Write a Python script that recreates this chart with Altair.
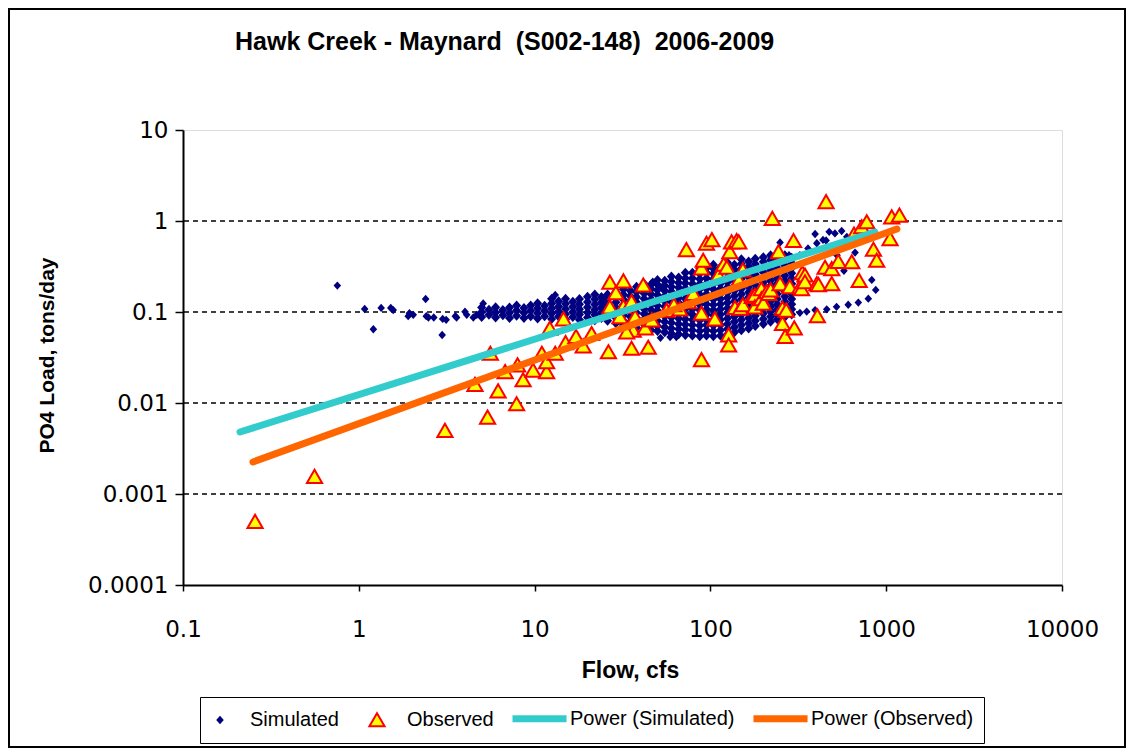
import altair as alt
import pandas as pd

TITLE = "Hawk Creek - Maynard\u00a0 (S002-148)\u00a0 2006-2009"
FONT = "Liberation Sans"
TICK_FONT = "DejaVu Sans"

series_names = ["Simulated", "Observed", "Power (Simulated)", "Power (Observed)"]

# Simulated: scattered low-flow days
sim_low_flow = [0.755, 1.08, 1.21, 1.34, 1.52, 1.57, 1.91, 1.94, 2.04, 2.4, 2.42, 2.49, 2.67,
                2.98, 3.0, 3.14, 3.54, 3.6, 4.02, 4.11, 4.48, 4.69, 5.1, 13.1, 47, 53, 52, 59, 64]
sim_low_load = [0.195, 0.108, 0.0646, 0.111, 0.111, 0.105, 0.090, 0.097, 0.093, 0.139, 0.090, 0.087, 0.087,
                0.0559, 0.084, 0.082, 0.090, 0.087, 0.1007, 0.093, 0.087, 0.093, 0.124, 0.154, 0.215, 0.187, 0.052, 0.053, 0.053]

# Simulated: dense band, grouped by flow (cfs) -> loads (tons/day)
sim_band_flow = [5.0, 5.5, 6.0, 6.6, 7.2, 7.9, 8.7, 9.5, 10.4, 11.4, 12.5, 13.7, 15, 16.5, 18, 20, 22, 24, 26,
                 29, 32, 35, 38, 42, 46, 50, 55, 60, 66, 72, 79, 87, 95, 104, 114, 125, 137, 150, 165, 180,
                 200, 220, 240, 265, 290]
sim_band_loads = [
    [0.088, 0.1, 0.112],
    [0.093, 0.106],
    [0.087, 0.099, 0.113],
    [0.092, 0.105],
    [0.086, 0.098, 0.112],
    [0.091, 0.104, 0.118],
    [0.086, 0.098, 0.111],
    [0.09, 0.103, 0.118],
    [0.085, 0.097, 0.11, 0.125],
    [0.09, 0.103, 0.117],
    [0.084, 0.096, 0.109, 0.124, 0.14],
    [0.089, 0.101, 0.115, 0.131],
    [0.083, 0.095, 0.108, 0.123, 0.14],
    [0.088, 0.1, 0.114, 0.13],
    [0.082, 0.094, 0.107, 0.122, 0.139],
    [0.087, 0.099, 0.113, 0.129, 0.147],
    [0.081, 0.093, 0.106, 0.121, 0.138, 0.156],
    [0.086, 0.098, 0.112, 0.128, 0.146],
    [0.08, 0.092, 0.105, 0.12, 0.137, 0.156],
    [0.075, 0.086, 0.098, 0.112, 0.128, 0.146, 0.166],
    [0.072, 0.08, 0.092, 0.105, 0.12, 0.137, 0.156, 0.178],
    [0.069, 0.078, 0.089, 0.102, 0.116, 0.132, 0.15, 0.172],
    [0.067, 0.075, 0.086, 0.098, 0.112, 0.128, 0.146, 0.166, 0.19],
    [0.065, 0.073, 0.083, 0.095, 0.108, 0.123, 0.14, 0.16, 0.182, 0.205],
    [0.063, 0.072, 0.082, 0.093, 0.106, 0.121, 0.138, 0.157, 0.179, 0.2],
    [0.062, 0.07, 0.08, 0.091, 0.104, 0.118, 0.135, 0.154, 0.175, 0.2, 0.225],
    [0.06, 0.068, 0.078, 0.089, 0.101, 0.115, 0.131, 0.15, 0.171, 0.195, 0.22],
    [0.058, 0.066, 0.076, 0.087, 0.099, 0.113, 0.129, 0.147, 0.168, 0.19, 0.215, 0.245],
    [0.057, 0.065, 0.074, 0.085, 0.097, 0.11, 0.126, 0.143, 0.163, 0.186, 0.21, 0.24],
    [0.056, 0.064, 0.073, 0.083, 0.095, 0.108, 0.123, 0.14, 0.16, 0.182, 0.207, 0.235, 0.27],
    [0.055, 0.063, 0.072, 0.082, 0.094, 0.107, 0.122, 0.139, 0.158, 0.18, 0.205, 0.235, 0.27],
    [0.054, 0.062, 0.071, 0.081, 0.092, 0.105, 0.12, 0.137, 0.156, 0.178, 0.203, 0.23, 0.265, 0.3],
    [0.055, 0.063, 0.072, 0.082, 0.094, 0.107, 0.122, 0.139, 0.158, 0.18, 0.205, 0.235, 0.27, 0.305],
    [0.054, 0.062, 0.071, 0.081, 0.092, 0.105, 0.12, 0.137, 0.156, 0.178, 0.203, 0.23, 0.265, 0.3, 0.33],
    [0.055, 0.063, 0.072, 0.082, 0.094, 0.107, 0.122, 0.139, 0.158, 0.18, 0.205, 0.235, 0.27, 0.31],
    [0.057, 0.065, 0.074, 0.085, 0.097, 0.11, 0.126, 0.143, 0.163, 0.186, 0.212, 0.24, 0.275, 0.315, 0.35],
    [0.06, 0.068, 0.078, 0.089, 0.101, 0.115, 0.131, 0.15, 0.171, 0.195, 0.222, 0.253, 0.29, 0.33],
    [0.063, 0.072, 0.082, 0.093, 0.106, 0.121, 0.138, 0.157, 0.179, 0.204, 0.232, 0.265, 0.3, 0.34, 0.38],
    [0.066, 0.075, 0.086, 0.098, 0.112, 0.127, 0.145, 0.165, 0.188, 0.214, 0.244, 0.278, 0.317, 0.36],
    [0.07, 0.08, 0.091, 0.104, 0.118, 0.135, 0.154, 0.175, 0.2, 0.228, 0.26, 0.296, 0.337, 0.385],
    [0.074, 0.084, 0.096, 0.11, 0.125, 0.142, 0.162, 0.185, 0.211, 0.24, 0.274, 0.312, 0.356, 0.4],
    [0.078, 0.089, 0.101, 0.115, 0.131, 0.149, 0.17, 0.194, 0.221, 0.252, 0.287, 0.327, 0.373, 0.42],
    [0.083, 0.094, 0.107, 0.122, 0.139, 0.158, 0.18, 0.205, 0.234, 0.267, 0.304, 0.346, 0.395],
    [0.088, 0.1, 0.114, 0.13, 0.148, 0.169, 0.193, 0.22, 0.25, 0.285, 0.325, 0.37, 0.42],
    [0.094, 0.107, 0.122, 0.139, 0.158, 0.18, 0.205, 0.234, 0.267, 0.304, 0.346, 0.395],
]

# Simulated: scattered high-flow days
sim_high_flow = [249, 280, 323, 323, 353, 359, 394, 394, 403, 437, 455, 459, 474, 511, 522, 525, 539,
                 558, 575, 597, 608, 637, 647, 665, 694, 791, 828, 872]
sim_high_load = [0.58, 0.42, 0.42, 0.098, 0.101, 0.50, 0.105, 0.72, 0.57, 0.62, 0.61, 0.107, 0.76, 0.73, 0.114, 0.42, 0.345,
                 0.776, 0.284, 0.67, 0.12, 0.575, 0.345, 0.45, 0.127, 0.14, 0.225, 0.175]

# Observed samples (flow cfs, load tons/day)
observed_points = [
    (0.257, 0.0005), (0.56, 0.00156), (3.09, 0.005), (4.58, 0.016), (5.4, 0.007), (5.6, 0.0352),
    (6.2, 0.0136), (6.8, 0.0221), (7.9, 0.0098), (8.0, 0.0262), (8.6, 0.018), (9.8, 0.023),
    (11.0, 0.0352), (11.7, 0.0221), (11.7, 0.0284), (12.2, 0.0662), (13.1, 0.0352), (14.6, 0.084),
    (15.0, 0.046), (17.2, 0.054), (18.9, 0.0425), (21.1, 0.058), (26.3, 0.0366), (26.8, 0.213),
    (29.0, 0.163), (32.0, 0.22), (26.8, 0.114), (32.0, 0.115), (30.6, 0.089), (35.6, 0.13),
    (35.6, 0.04), (36.4, 0.063), (33.4, 0.0605), (41.5, 0.198), (44.3, 0.041), (42.6, 0.067),
    (37.3, 0.0887), (46.4, 0.082), (56.4, 0.105), (67.0, 0.108), (73.0, 0.485), (89.0, 0.097),
    (106, 0.084), (89.0, 0.03), (89.0, 0.305), (95.0, 0.57), (102, 0.625), (111, 0.255),
    (119, 0.335), (129, 0.46), (132, 0.59), (141, 0.61), (145, 0.59), (127, 0.056),
    (127, 0.0434), (138, 0.112), (148, 0.11), (153, 0.12), (124, 0.31), (153, 0.29),
    (145, 0.225), (91, 0.37), (173, 0.148), (179, 0.153), (179, 0.114), (195, 0.18),
    (195, 0.14), (200, 0.125), (209, 0.167), (215, 0.16), (220, 0.175), (225, 1.07),
    (244, 0.46), (249, 0.205), (257, 0.11), (257, 0.075), (266, 0.054), (270, 0.105),
    (283, 0.19), (297, 0.61), (300, 0.067), (323, 0.19), (330, 0.18), (333, 0.27),
    (345, 0.255), (345, 0.215), (403, 0.205), (406, 0.091), (412, 0.2), (449, 0.31),
    (455, 1.63), (490, 0.205), (490, 0.3), (534, 0.36), (637, 0.357), (656, 0.72),
    (702, 0.222), (725, 0.865), (775, 0.98), (846, 0.49), (883, 0.37), (1052, 0.64),
    (1075, 1.11), (1189, 1.16), (62, 0.12), (75, 0.13), (80, 0.16),
]

# Power trendlines (end points of the fitted curves)
pow_sim_flow = [0.211, 863]
pow_sim_load = [0.0048, 0.757]
pow_obs_flow = [0.25, 1150]
pow_obs_load = [0.00225, 0.817]

x_ticks = [0.1, 1, 10, 100, 1000, 10000]
y_ticks = [0.0001, 0.001, 0.01, 0.1, 1, 10]
grid_values = [0.001, 0.01, 0.1, 1]

SYM = 230        # marker / legend symbol area
SYM_BAND = 330   # slightly larger diamonds where simulated days pile up

# ---- tables ----
rows = []
for f, l in zip(sim_low_flow, sim_low_load):
    rows.append({"flow": f, "load": l, "series": "Simulated", "sz": SYM})
for f, loads in zip(sim_band_flow, sim_band_loads):
    for l in loads:
        rows.append({"flow": f, "load": l, "series": "Simulated", "sz": SYM_BAND})
for f, l in zip(sim_high_flow, sim_high_load):
    rows.append({"flow": f, "load": l, "series": "Simulated", "sz": SYM})
for f, l in observed_points:
    rows.append({"flow": f, "load": l, "series": "Observed", "sz": SYM})
points_df = pd.DataFrame(rows)

line_rows = []
for f, l in zip(pow_sim_flow, pow_sim_load):
    line_rows.append({"flow": f, "load": l, "series": "Power (Simulated)"})
for f, l in zip(pow_obs_flow, pow_obs_load):
    line_rows.append({"flow": f, "load": l, "series": "Power (Observed)"})
lines_df = pd.DataFrame(line_rows)

grid_df = pd.DataFrame({"load": grid_values})
frame_df = pd.DataFrame({"k": [0]})

W, H = 879, 455
PAD_L, PAD_T = 175, 122

xscale = alt.Scale(type="log", domain=[0.1, 10000])
yscale = alt.Scale(type="log", domain=[0.0001, 10])

# symbol paths (unit box); the leading moves only widen the legend entry spacing
DIAMOND = "M-4.75,0M0,-0.55L0.5,0L0,0.55L-0.5,0Z"
TRIANGLE = "M-3.83,0M0,-0.866L-1,0.866L1,0.866Z"
LINE_SYM = "M-3.43,0H3.7"

legend = alt.Legend(
    title=None, orient="none", legendX=17, legendY=567, direction="horizontal",
    strokeColor="black", fillColor="white", padding=10, cornerRadius=0,
    labelFont=FONT, labelFontSize=20, labelColor="black", labelLimit=400,
    columnPadding=4, labelOffset=20, symbolSize=SYM,
)
fill_scale = alt.Scale(domain=series_names, range=["#000080", "#FFFF00", "transparent", "transparent"])
stroke_scale = alt.Scale(domain=series_names, range=["#000080", "#FF0000", "#33CCCC", "#FF6600"])
shape_scale = alt.Scale(domain=series_names, range=[DIAMOND, TRIANGLE, LINE_SYM, LINE_SYM])
sw_scale = alt.Scale(type="ordinal", domain=series_names, range=[0, 2, 7, 7])

x_axis = alt.Axis(
    values=x_ticks, format="~g", title="Flow, cfs", grid=False,
    labelFont=TICK_FONT, labelFontSize=23, labelColor="black", labelPadding=27, labelFlush=False,
    labelOverlap=False, tickSize=6, tickColor="black", tickWidth=1.5,
    domainColor="black", domainWidth=2,
    titleFont=FONT, titleFontSize=23, titleFontWeight="bold", titleColor="black",
    titleX=447, titleY=85, titleBaseline="middle", titleAnchor="middle",
)
y_axis = alt.Axis(
    values=y_ticks, format="~g", title="PO4 Load, tons/day", grid=False,
    labelFont=TICK_FONT, labelFontSize=23, labelColor="black", labelPadding=7, labelFlush=False,
    labelOverlap=False, tickSize=8, tickColor="black", tickWidth=1.5,
    domainColor="black", domainWidth=2,
    titleFont=FONT, titleFontSize=21, titleFontWeight="bold", titleColor="black",
    titleX=-136, titleY=225, titleBaseline="middle", titleAngle=270, titleAnchor="middle",
)

frame = alt.Chart(frame_df).mark_rect(fill=None, stroke="black", strokeWidth=2).encode(
    x=alt.value(-PAD_L + 1), x2=alt.value(1118 - PAD_L - 1),
    y=alt.value(-PAD_T + 1), y2=alt.value(740 - PAD_T - 1),
)

grid = alt.Chart(grid_df).mark_rule(color="black", strokeWidth=1.5, strokeDash=[5, 4]).encode(
    y=alt.Y("load:Q", scale=yscale, axis=y_axis),
)

pts = alt.Chart(points_df).mark_point(filled=True, opacity=1).encode(
    x=alt.X("flow:Q", scale=xscale, axis=x_axis),
    y=alt.Y("load:Q", scale=yscale, axis=y_axis),
    fill=alt.Fill("series:N", scale=fill_scale, legend=legend),
    stroke=alt.Stroke("series:N", scale=stroke_scale, legend=legend),
    shape=alt.Shape("series:N", scale=shape_scale, legend=legend),
    strokeWidth=alt.StrokeWidth("series:N", scale=sw_scale, legend=legend),
    size=alt.Size("sz:Q", scale=None, legend=None),
    order=alt.Order("series:N", sort="descending"),
)

lines = alt.Chart(lines_df).mark_line(strokeWidth=7, strokeCap="round").encode(
    x=alt.X("flow:Q", scale=xscale, axis=x_axis),
    y=alt.Y("load:Q", scale=yscale, axis=y_axis),
    stroke=alt.Stroke("series:N", scale=stroke_scale, legend=legend),
    detail="series:N",
)

chart = alt.layer(frame, grid, pts, lines).properties(
    width=W, height=H,
    title=alt.TitleParams(
        TITLE, anchor="start", frame="group", dx=52, offset=0, dy=59, baseline="middle",
        font=FONT, fontSize=25, fontWeight="bold", color="black",
    ),
    autosize=alt.AutoSizeParams(type="none"),
    padding={"left": PAD_L, "top": PAD_T, "right": 1118 - PAD_L - W, "bottom": 740 - PAD_T - H},
).configure_view(stroke="#808080", strokeWidth=1).configure(background="white")

chart.save("out.html", embed_options={"renderer": "svg", "actions": False})
